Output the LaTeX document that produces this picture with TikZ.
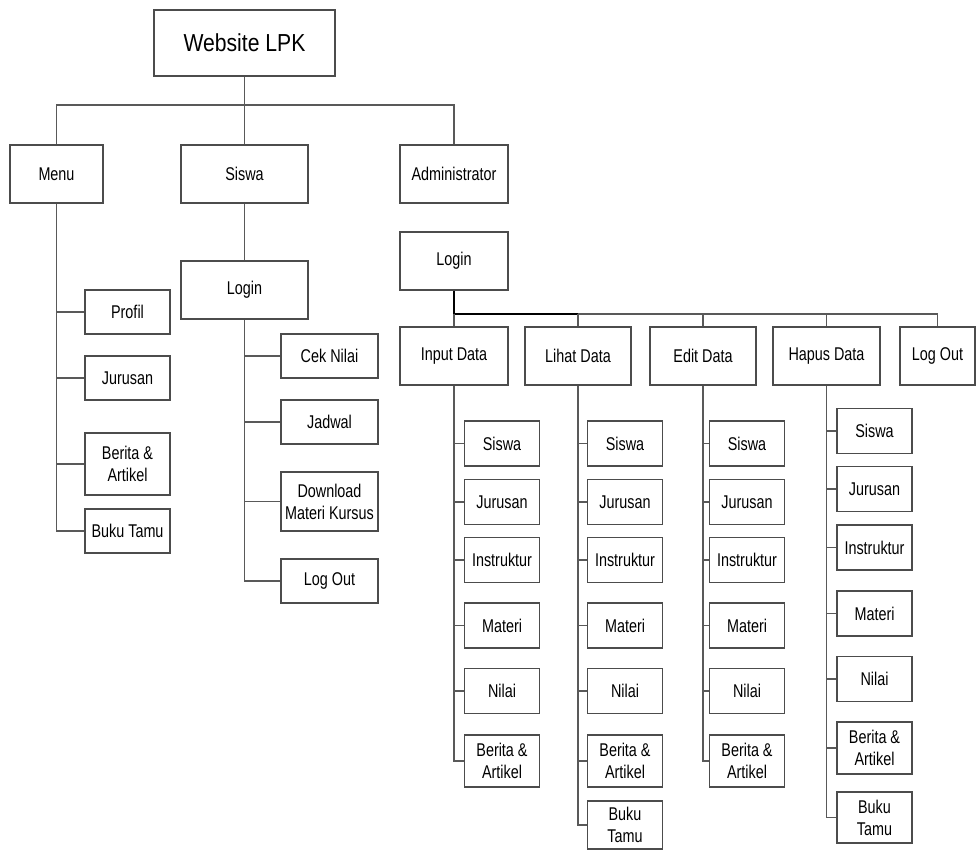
\documentclass[tikz,border=0pt]{standalone}
\usepackage{fontspec}
\setmainfont{Liberation Sans}[FakeStretch=0.78]
\newfontfamily\titlefont{Liberation Sans}[FakeStretch=0.86]
\usepackage{tikz}

\begin{document}
\begin{tikzpicture}[
  x=0.02cm, y=-0.02cm,
  font=\fontsize{10.5}{12.5}\selectfont,
  box/.style={draw=black!70, line width=0.8pt, align=center, inner sep=1pt, minimum height=0.88cm},
  headbox/.style={box, minimum height=1.16cm},
  menuitem/.style={box, minimum width=1.7cm},
  siswaitem/.style={box, minimum width=1.94cm},
  adminitem/.style={box, minimum width=1.5cm, minimum height=0.9cm},
  link/.style={draw=black!65, line width=0.8pt},
  bus/.style={draw=black, line width=1.3pt}
]
\useasboundingbox (0,0) rectangle (977,850);

% top levels
\node[box, minimum width=3.62cm, minimum height=1.32cm, font=\titlefont\fontsize{14}{16}\selectfont] (root) at (244.5,43) {Website LPK};
\node[headbox, minimum width=1.86cm] (menu) at (56.5,174) {Menu};
\node[headbox, minimum width=2.54cm] (siswa) at (244.5,174) {Siswa};
\node[headbox, minimum width=2.16cm] (admin) at (454,174) {Administrator};
\node[headbox, minimum width=2.54cm] (slogin) at (244.5,290) {Login};
\node[headbox, minimum width=2.16cm] (alogin) at (454,261) {Login};
\coordinate (rbus) at (244.5,105);
\coordinate (abus) at (454,314);

% menu
\node[menuitem] (profil) at (127.5,312) {Profil};
\node[menuitem] (mJurusan) at (127.5,378) {Jurusan};
\node[menuitem, minimum height=1.24cm] (mBerita) at (127.5,464) {Berita \&\\Artikel};
\node[menuitem] (mBuku) at (127.5,531) {Buku Tamu};

% siswa
\node[siswaitem] (cek) at (329.5,356) {Cek Nilai};
\node[siswaitem] (jadwal) at (329.5,422) {Jadwal};
\node[siswaitem, minimum height=1.18cm] (download) at (329.5,501.5) {Download\\Materi Kursus};
\node[siswaitem] (slogout) at (329.5,581) {Log Out};

% administrator
\node[headbox, minimum width=2.16cm] (input) at (454,356) {Input Data};
\node[headbox, minimum width=2.12cm] (lihat) at (578,356) {Lihat Data};
\node[headbox, minimum width=2.12cm] (edit) at (703,356) {Edit Data};
\node[headbox, minimum width=2.14cm] (hapus) at (826.5,356) {Hapus Data};
\node[headbox, minimum width=1.5cm] (alogout) at (937.5,356) {Log Out};

\node[adminitem] (inSiswa) at (502,443.5) {Siswa};
\node[adminitem] (inJurusan) at (502,502) {Jurusan};
\node[adminitem] (inInstruktur) at (502,560) {Instruktur};
\node[adminitem] (inMateri) at (502,625.5) {Materi};
\node[adminitem] (inNilai) at (502,691) {Nilai};
\node[adminitem, minimum height=1.04cm] (inBerita) at (502,761) {Berita \&\\Artikel};

\node[adminitem] (liSiswa) at (625,443.5) {Siswa};
\node[adminitem] (liJurusan) at (625,502) {Jurusan};
\node[adminitem] (liInstruktur) at (625,560) {Instruktur};
\node[adminitem] (liMateri) at (625,625.5) {Materi};
\node[adminitem] (liNilai) at (625,691) {Nilai};
\node[adminitem, minimum height=1.04cm] (liBerita) at (625,761) {Berita \&\\Artikel};
\node[adminitem, minimum height=0.96cm] (liBuku) at (625,825) {Buku\\Tamu};

\node[adminitem] (edSiswa) at (747,443.5) {Siswa};
\node[adminitem] (edJurusan) at (747,502) {Jurusan};
\node[adminitem] (edInstruktur) at (747,560) {Instruktur};
\node[adminitem] (edMateri) at (747,625.5) {Materi};
\node[adminitem] (edNilai) at (747,691) {Nilai};
\node[adminitem, minimum height=1.04cm] (edBerita) at (747,761) {Berita \&\\Artikel};

\node[adminitem] (haSiswa) at (874.5,431) {Siswa};
\node[adminitem] (haJurusan) at (874.5,489) {Jurusan};
\node[adminitem] (haInstruktur) at (874.5,547.5) {Instruktur};
\node[adminitem] (haMateri) at (874.5,613.5) {Materi};
\node[adminitem] (haNilai) at (874.5,679) {Nilai};
\node[adminitem, minimum height=1.04cm] (haBerita) at (874.5,748) {Berita \&\\Artikel};
\node[adminitem, minimum height=1.02cm] (haBuku) at (874.5,817.5) {Buku\\Tamu};

% connectors
\draw[link] (root) -- (siswa);
\draw[link] (menu) |- (rbus) -| (admin);
\draw[link] (siswa) -- (slogin);

\draw[link] (menu) |- (profil);
\draw[link] (menu) |- (mJurusan);
\draw[link] (menu) |- (mBerita);
\draw[link] (menu) |- (mBuku);

\draw[link] (slogin) |- (cek);
\draw[link] (slogin) |- (jadwal);
\draw[link] (slogin) |- (download);
\draw[link] (slogin) |- (slogout);

\draw[bus] (alogin) |- (abus) -- (abus -| lihat);
\draw[link] (abus) -- (input);
\draw[link] (abus -| lihat) -| (alogout);
\draw[link] (abus -| lihat) -- (lihat);
\draw[link] (abus -| edit) -- (edit);
\draw[link] (abus -| hapus) -- (hapus);

\draw[link] (input) |- (inSiswa);
\draw[link] (input) |- (inJurusan);
\draw[link] (input) |- (inInstruktur);
\draw[link] (input) |- (inMateri);
\draw[link] (input) |- (inNilai);
\draw[link] (input) |- (inBerita);

\draw[link] (lihat) |- (liSiswa);
\draw[link] (lihat) |- (liJurusan);
\draw[link] (lihat) |- (liInstruktur);
\draw[link] (lihat) |- (liMateri);
\draw[link] (lihat) |- (liNilai);
\draw[link] (lihat) |- (liBerita);
\draw[link] (lihat) |- (liBuku);

\draw[link] (edit) |- (edSiswa);
\draw[link] (edit) |- (edJurusan);
\draw[link] (edit) |- (edInstruktur);
\draw[link] (edit) |- (edMateri);
\draw[link] (edit) |- (edNilai);
\draw[link] (edit) |- (edBerita);

\draw[link] (hapus) |- (haSiswa);
\draw[link] (hapus) |- (haJurusan);
\draw[link] (hapus) |- (haInstruktur);
\draw[link] (hapus) |- (haMateri);
\draw[link] (hapus) |- (haNilai);
\draw[link] (hapus) |- (haBerita);
\draw[link] (hapus) |- (haBuku);
\end{tikzpicture}
\end{document}
